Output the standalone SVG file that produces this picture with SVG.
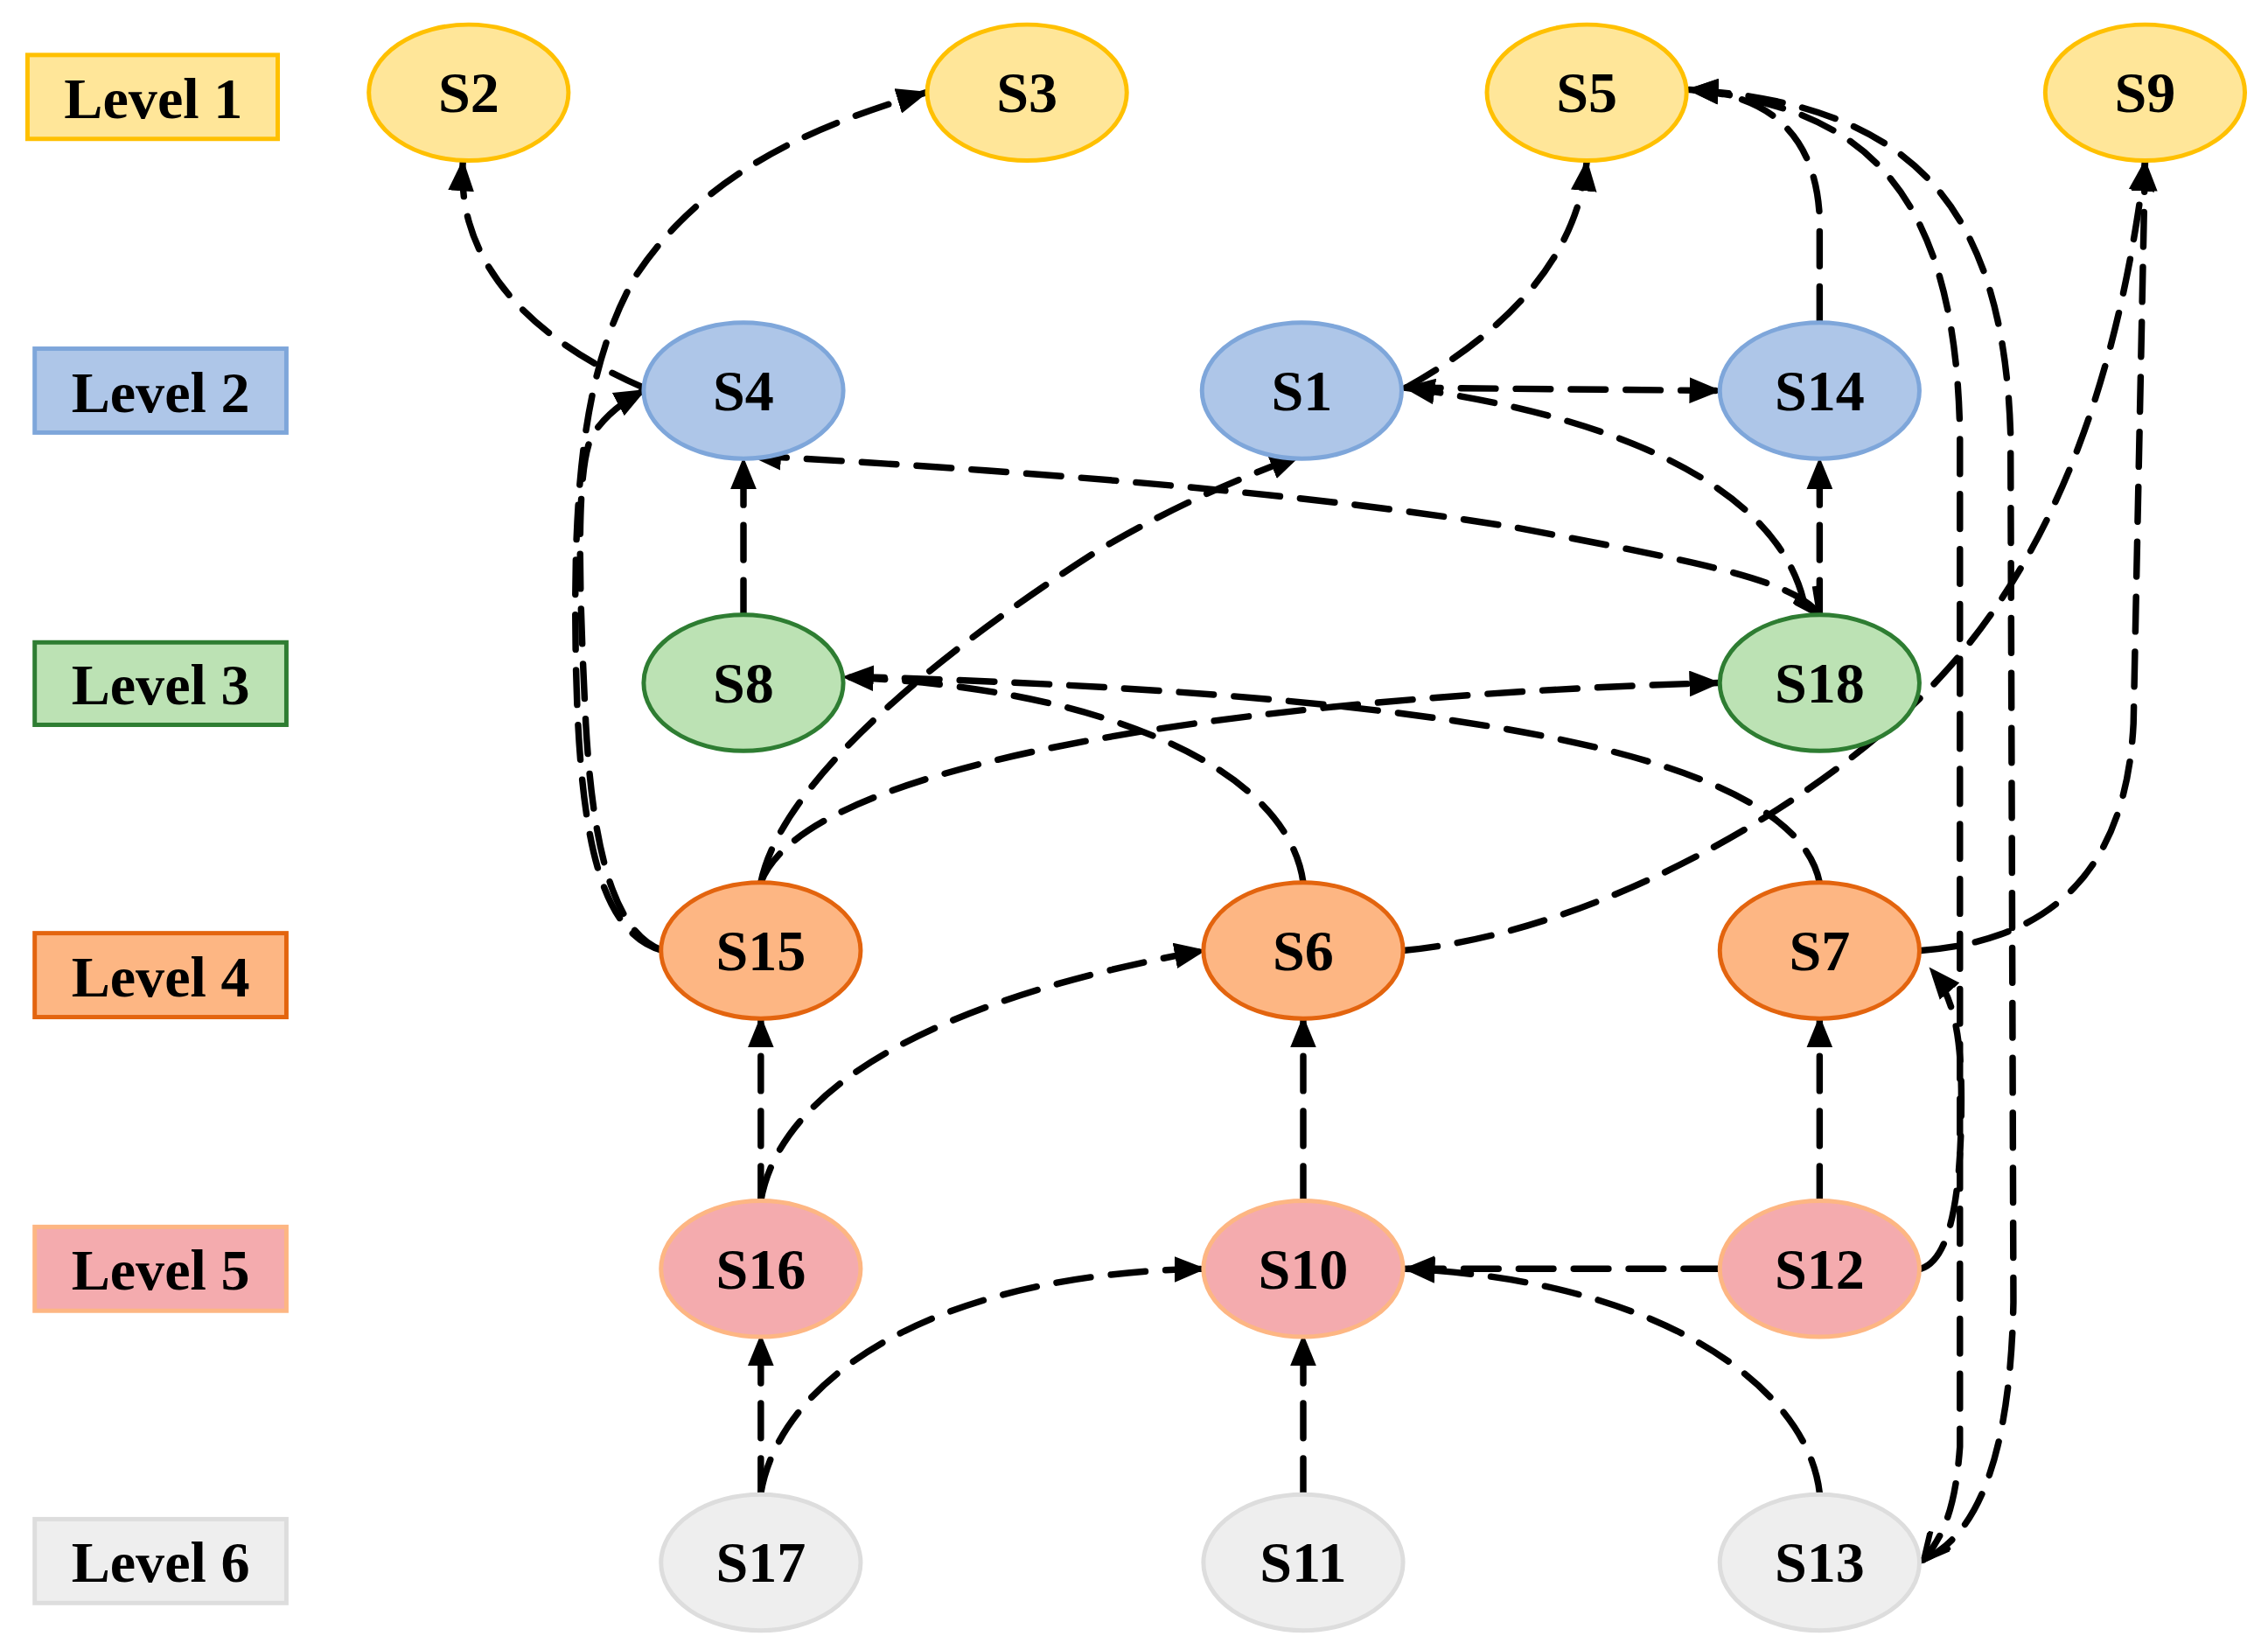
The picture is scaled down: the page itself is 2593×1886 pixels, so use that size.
<svg xmlns="http://www.w3.org/2000/svg" width="2593" height="1886" viewBox="0 0 2593 1886">
<style>
.t{font-family:"Liberation Serif","Times New Roman",serif;font-weight:bold;font-size:40px;text-anchor:middle;dominant-baseline:central;fill:#000}
.e{fill:none;stroke:#000;stroke-width:4.5;stroke-dasharray:24 14;stroke-linecap:round}
.l1{fill:#FFE699;stroke:#FFC000;stroke-width:3}
.l2{fill:#AEC6E8;stroke:#7EA6DA;stroke-width:3}
.l3{fill:#BCE2B4;stroke:#2E7D32;stroke-width:3}
.l4{fill:#FDB683;stroke:#E3640E;stroke-width:3}
.l5{fill:#F4ABAE;stroke:#FDB683;stroke-width:3}
.l6{fill:#EEEEEE;stroke:#DDDDDD;stroke-width:3}
</style>
<defs>
<marker id="a" markerUnits="userSpaceOnUse" markerWidth="22" markerHeight="18" refX="20" refY="9" orient="auto-start-reverse"><path d="M0,0 L22,9 L0,18 Z" fill="#000"/></marker>
<marker id="v" markerUnits="userSpaceOnUse" markerWidth="24" markerHeight="20" refX="20" refY="10" orient="auto"><path d="M2,1 L20,10 L2,19" fill="none" stroke="#000" stroke-width="4"/></marker>
</defs>
<rect width="2593" height="1886" fill="#fff"/>
<g transform="scale(1.6537)">
<g id="legend">
<rect x="19" y="38" width="173" height="58" class="l1"/><text class="t" x="106" y="68">Level 1</text>
<rect x="24" y="241" width="174" height="58" class="l2"/><text class="t" x="111" y="271">Level 2</text>
<rect x="24" y="444" width="174" height="57" class="l3"/><text class="t" x="111" y="473">Level 3</text>
<rect x="24" y="645" width="174" height="58" class="l4"/><text class="t" x="111" y="675">Level 4</text>
<rect x="24" y="848" width="174" height="58" class="l5"/><text class="t" x="111" y="878">Level 5</text>
<rect x="24" y="1050" width="174" height="58" class="l6"/><text class="t" x="111" y="1080">Level 6</text>
</g>
<g id="connectors">
<path class="e" marker-end="url(#a)" d="M445,268 C380,240 315,190 320,112"/>
<path class="e" marker-end="url(#a)" d="M458,657 C415,645 400,580 398,450 C396,330 405,250 440,190 C490,115 570,85 640,64"/>
<path class="e" marker-end="url(#a)" d="M458,657 C425,645 410,590 405,500 C400,400 398,320 410,300 C418,288 430,278 445,270"/>
<path class="e" marker-end="url(#a)" d="M514,425 L514,318"/>
<path class="e" marker-start="url(#a)" marker-end="url(#v)" d="M520,315 C700,325 900,340 1050,365 C1170,388 1240,400 1258,425"/>
<path class="e" marker-end="url(#a)" d="M972,268 C1040,230 1090,180 1097,112"/>
<path class="e" marker-end="url(#a)" d="M972,268 L1188,270"/>
<path class="e" marker-start="url(#a)" d="M972,268 C1100,285 1230,330 1248,420"/>
<path class="e" marker-end="url(#a)" d="M1258,425 L1258,318"/>
<path class="e" marker-end="url(#a)" d="M526,610 C540,540 650,450 760,380 C820,345 860,330 898,315"/>
<path class="e" marker-end="url(#a)" d="M1258,222 L1258,150 C1255,90 1220,65 1168,62"/>
<path class="e" marker-end="url(#v)" d="M1172,62 C1270,75 1352,110 1355,300 L1355,1000 C1352,1040 1345,1060 1330,1078"/>
<path class="e" marker-end="url(#a)" d="M1330,1078 C1370,1060 1390,1000 1392,900 L1390,300 C1385,140 1320,72 1168,62"/>
<path class="e" marker-end="url(#a)" d="M1328,657 C1420,650 1470,600 1475,500 L1483,112"/>
<path class="e" marker-end="url(#a)" d="M970,657 C1100,645 1250,560 1330,480 C1420,390 1465,260 1483,112"/>
<path class="e" marker-end="url(#a)" d="M1328,877 C1350,870 1356,820 1356,760 C1356,720 1352,690 1335,670"/>
<path class="e" marker-end="url(#a)" d="M901,610 C890,530 760,475 584,468"/>
<path class="e" d="M1258,610 C1240,520 1000,480 600,468"/>
<path class="e" marker-end="url(#a)" d="M526,610 C560,520 900,480 1188,472"/>
<path class="e" marker-end="url(#a)" d="M526,830 L526,704"/>
<path class="e" marker-end="url(#a)" d="M526,830 C540,750 650,690 832,657"/>
<path class="e" marker-end="url(#a)" d="M901,830 L901,704"/>
<path class="e" marker-end="url(#a)" d="M1258,830 L1258,704"/>
<path class="e" marker-end="url(#a)" d="M1188,877 L972,877"/>
<path class="e" marker-end="url(#a)" d="M1258,1032 C1250,960 1150,885 972,877"/>
<path class="e" marker-end="url(#a)" d="M526,1032 L526,924"/>
<path class="e" marker-end="url(#a)" d="M526,1032 C540,950 650,880 832,877"/>
<path class="e" marker-end="url(#a)" d="M901,1032 L901,924"/>
</g>
<g id="S2"><ellipse cx="324" cy="64" rx="69" ry="47" class="l1"/><text class="t" x="324" y="64">S2</text></g>
<g id="S3"><ellipse cx="710" cy="64" rx="69" ry="47" class="l1"/><text class="t" x="710" y="64">S3</text></g>
<g id="S5"><ellipse cx="1097" cy="64" rx="69" ry="47" class="l1"/><text class="t" x="1097" y="64">S5</text></g>
<g id="S9"><ellipse cx="1483" cy="64" rx="69" ry="47" class="l1"/><text class="t" x="1483" y="64">S9</text></g>
<g id="S4"><ellipse cx="514" cy="270" rx="69" ry="47" class="l2"/><text class="t" x="514" y="270">S4</text></g>
<g id="S1"><ellipse cx="900" cy="270" rx="69" ry="47" class="l2"/><text class="t" x="900" y="270">S1</text></g>
<g id="S14"><ellipse cx="1258" cy="270" rx="69" ry="47" class="l2"/><text class="t" x="1258" y="270">S14</text></g>
<g id="S8"><ellipse cx="514" cy="472" rx="69" ry="47" class="l3"/><text class="t" x="514" y="472">S8</text></g>
<g id="S18"><ellipse cx="1258" cy="472" rx="69" ry="47" class="l3"/><text class="t" x="1258" y="472">S18</text></g>
<g id="S15"><ellipse cx="526" cy="657" rx="69" ry="47" class="l4"/><text class="t" x="526" y="657">S15</text></g>
<g id="S6"><ellipse cx="901" cy="657" rx="69" ry="47" class="l4"/><text class="t" x="901" y="657">S6</text></g>
<g id="S7"><ellipse cx="1258" cy="657" rx="69" ry="47" class="l4"/><text class="t" x="1258" y="657">S7</text></g>
<g id="S16"><ellipse cx="526" cy="877" rx="69" ry="47" class="l5"/><text class="t" x="526" y="877">S16</text></g>
<g id="S10"><ellipse cx="901" cy="877" rx="69" ry="47" class="l5"/><text class="t" x="901" y="877">S10</text></g>
<g id="S12"><ellipse cx="1258" cy="877" rx="69" ry="47" class="l5"/><text class="t" x="1258" y="877">S12</text></g>
<g id="S17"><ellipse cx="526" cy="1080" rx="69" ry="47" class="l6"/><text class="t" x="526" y="1080">S17</text></g>
<g id="S11"><ellipse cx="901" cy="1080" rx="69" ry="47" class="l6"/><text class="t" x="901" y="1080">S11</text></g>
<g id="S13"><ellipse cx="1258" cy="1080" rx="69" ry="47" class="l6"/><text class="t" x="1258" y="1080">S13</text></g>
</g>
</svg>
